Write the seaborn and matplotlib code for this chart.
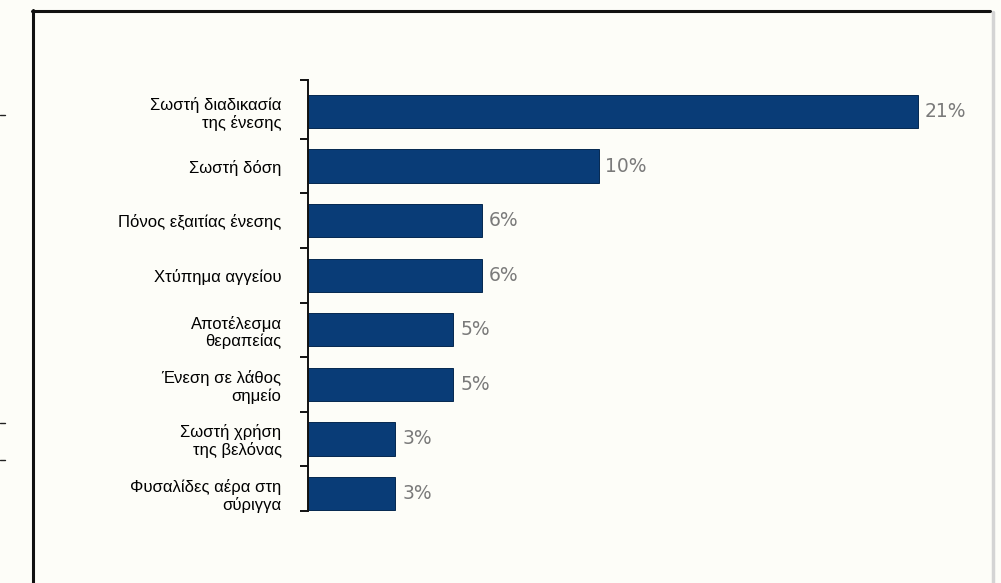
import matplotlib
matplotlib.use("Agg")
import matplotlib.pyplot as plt
from matplotlib.lines import Line2D
import seaborn as sns
import pandas as pd

categories = [
    "Σωστή διαδικασία\nτης ένεσης",
    "Σωστή δόση",
    "Πόνος εξαιτίας ένεσης",
    "Χτύπημα αγγείου",
    "Αποτέλεσμα\nθεραπείας",
    "Ένεση σε λάθος\nσημείο",
    "Σωστή χρήση\nτης βελόνας",
    "Φυσαλίδες αέρα στη\nσύριγγα",
]
values = [21, 10, 6, 6, 5, 5, 3, 3]
value_labels = ["21%", "10%", "6%", "6%", "5%", "5%", "3%", "3%"]

df = pd.DataFrame({"category": categories, "value": values})

sns.set_theme(style="white")
plt.rcParams["font.family"] = ["Liberation Sans", "DejaVu Sans"]

W, H = 1001, 583
fig = plt.figure(figsize=(W / 100, H / 100), dpi=100, facecolor="#fdfdf8")

# axes placement (pixels -> fractions)
ax_left, ax_top, ax_bottom = 308, 80, 511
ax_right = 308 + 23 * 29.05
ax = fig.add_axes([ax_left / W, 1 - ax_bottom / H, (ax_right - ax_left) / W, (ax_bottom - ax_top) / H])
ax.set_facecolor("none")

sns.barplot(data=df, x="value", y="category", orient="h", color="#093c77",
            width=0.61, edgecolor="#052850", linewidth=0.7, saturation=1, ax=ax)

ax.set_xlim(0, 23)
ax.set_ylim(7.32, -0.577)
ax.set_xlabel("")
ax.set_ylabel("")
ax.set_xticks([])

for s in ["top", "right", "bottom"]:
    ax.spines[s].set_visible(False)
ax.spines["left"].set_color("#111111")
ax.spines["left"].set_linewidth(1.4)

ax.tick_params(axis="y", which="major", length=0, pad=19, labelsize=12, labelcolor="#000000")
for t in ax.get_yticklabels():
    t.set_linespacing(1.15)
ax.set_yticks([-0.577, 0.5, 1.5, 2.5, 3.5, 4.5, 5.5, 6.5, 7.32], minor=True)
ax.tick_params(axis="y", which="minor", length=6, width=1.4, color="#111111", direction="out", left=True)

ax.bar_label(ax.containers[0], labels=value_labels, padding=5, fontsize=13.5,
             color="#7a7a7a", family="DejaVu Sans")

# screenshot frame
fig.add_artist(Line2D([33 / W, 33 / W], [0, 1 - 10 / H], transform=fig.transFigure,
                      color="#111111", linewidth=2.2))
fig.add_artist(Line2D([32 / W, 990 / W], [1 - 11 / H, 1 - 11 / H], transform=fig.transFigure,
                      color="#111111", linewidth=2.2))
fig.add_artist(Line2D([993 / W, 993 / W], [0, 1 - 12 / H], transform=fig.transFigure,
                      color="#d4d4d4", linewidth=2.5))
# small marks outside the frame
for yy in [115, 423, 460]:
    fig.add_artist(Line2D([0, 5 / W], [1 - yy / H, 1 - yy / H], transform=fig.transFigure,
                          color="#222222", linewidth=1.0))

fig.savefig("out.png", dpi=100, facecolor=fig.get_facecolor())
